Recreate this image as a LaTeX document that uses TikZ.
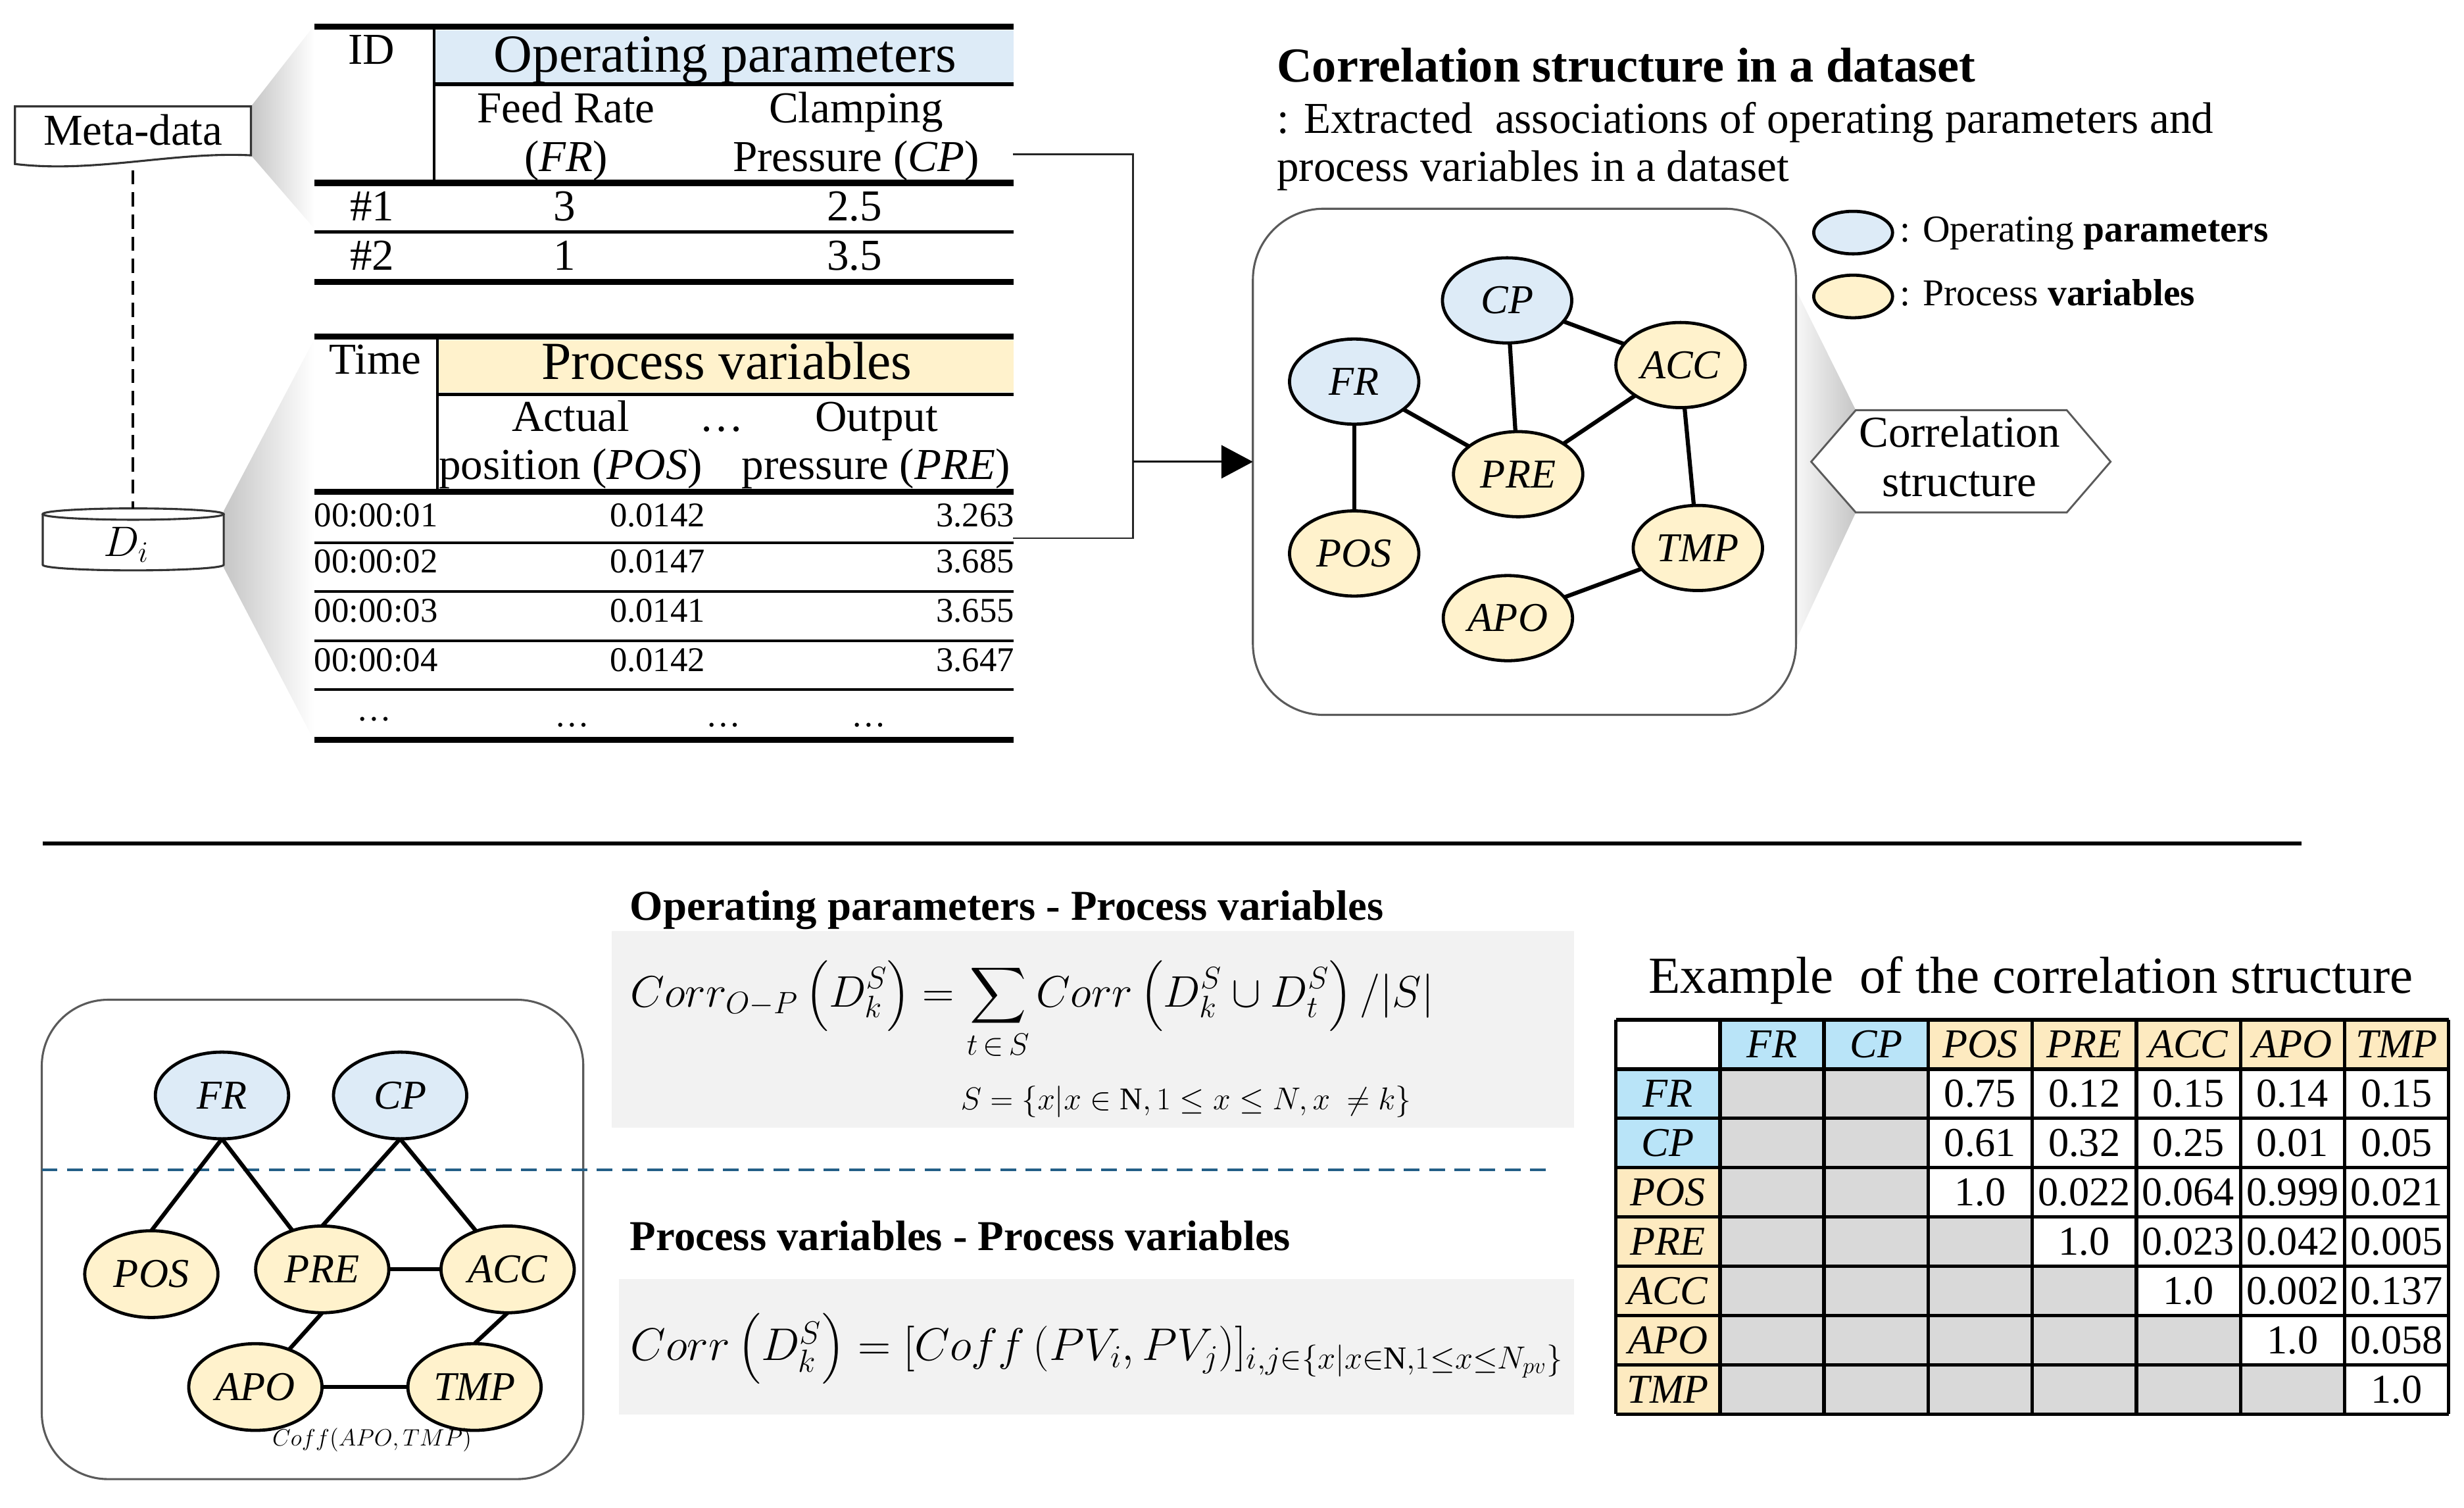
\RequirePackage{fix-cm}
\documentclass[tikz,border=0pt]{standalone}
\usepackage{exscale}
\usepackage{fontspec}
\setmainfont{Liberation Serif}
\usetikzlibrary{arrows.meta,shapes.geometric}
\definecolor{opblue}{RGB}{221,235,247}
\definecolor{pvyellow}{RGB}{255,242,204}
\definecolor{tblue}{RGB}{185,228,248}
\definecolor{tyellow}{RGB}{253,234,192}
\definecolor{cellgray}{RGB}{217,217,217}
\definecolor{boxgray}{RGB}{242,242,242}
\definecolor{dashblue}{RGB}{35,95,135}
\definecolor{framegray}{RGB}{90,90,90}
\begin{document}
\begin{tikzpicture}[x=1pt,y=-1pt,
  every node/.style={inner sep=0pt,outer sep=0pt},
  lbl/.style={anchor=base},
  fbody/.style={font=\fontsize{28}{32}\selectfont},
  fhead/.style={font=\fontsize{34}{38}\selectfont},
  fdata/.style={font=\fontsize{22}{26}\selectfont},
  fleg/.style={font=\fontsize{24}{28}\selectfont},
  ftitle/.style={font=\fontsize{31}{35}\selectfont\bfseries},
  fsub/.style={font=\fontsize{27}{31}\selectfont\bfseries},
  opn/.style={ellipse, draw=black, line width=2pt, fill=opblue, minimum width=82pt, minimum height=54pt, font=\fontsize{26}{30}\selectfont\itshape},
  pvn/.style={opn, fill=pvyellow},
  bign/.style={minimum width=84.5pt, minimum height=55pt},
  link/.style={line width=2.6pt},
  thickrule/.style={line width=3.8pt},
  midrule/.style={line width=2.2pt},
  thinrule/.style={line width=1.6pt},
  tline/.style={line width=2.2pt},
  tcell/.style={anchor=base, font=\fontsize{26}{30}\selectfont},
]
\useasboundingbox (0,0) rectangle (1563,956.3);

% ---------- zoom wedges ----------
\shade[left color=gray!45, right color=white] (159.2,67.5) -- (199.4,16) -- (199.4,145) -- (159.2,98.5) -- cycle;
\shade[left color=gray!45, right color=white] (141.9,324) -- (199.4,215) -- (199.4,470) -- (141.9,360) -- cycle;
\shade[left color=gray!6, right color=gray!45] (1139.3,184) -- (1177.2,260.1) -- (1177.2,325) -- (1139.3,406) -- cycle;

% ---------- Meta-data and D_i ----------
\draw[black!80, line width=1.3pt, fill=white] (9.5,67.5) -- (159.2,67.5) -- (159.2,98.5)
   .. controls (110,96) and (60,110) .. (9.5,104) -- cycle;
\node[lbl,fbody] (meta) at (84.4,91.8) {Meta-data};
\draw[black!80, line width=1.3pt, fill=white] (27.1,326) -- (27.1,358.2)
   arc[start angle=180, end angle=0, x radius=57.4, y radius=3.5] -- (141.9,326);
\draw[black!80, line width=1.3pt, fill=white] (84.5,326) ellipse[x radius=57.4, y radius=3.6];
\node[lbl, font=\fontsize{27}{30}\selectfont] (di) at (80,352.6) {$D_i$};
\coordinate (metabot) at (84.4,108);
\coordinate (cyltop) at (84.4,322.4);
\draw[line width=1.7pt, dash pattern=on 9pt off 5pt] (metabot) -- (cyltop);

% ---------- Operating parameters table ----------
\fill[opblue] (276.2,19.2) rectangle (643,52);
\draw[thickrule] (199.4,17) -- (643,17);
\draw[line width=1.6pt] (275.4,17) -- (275.4,116);
\draw[midrule] (275.4,53.4) -- (643,53.4);
\draw[thickrule] (199.4,116) -- (643,116);
\draw[midrule] (199.4,147) -- (643,147);
\draw[thickrule] (199.4,178.6) -- (643,178.6);
\node[lbl,fbody] (idh) at (235.5,40.7) {ID};
\node[lbl,fhead] (ophead) at (460,45.5) {Operating parameters};
\node[lbl,fbody] (fr1) at (359,77.8) {Feed Rate};
\node[lbl,fbody] (fr2) at (359,108.6) {(\textit{FR})};
\node[lbl,fbody] (cp1) at (543,77.8) {Clamping};
\node[lbl,fbody] (cp2) at (543,108.6) {Pressure (\textit{CP})};
\node[lbl,fbody] (r1id) at (236,140) {\#1};
\node[lbl,fbody] (r1fr) at (358,140) {3};
\node[lbl,fbody] (r1cp) at (542,140) {2.5};
\node[lbl,fbody] (r2id) at (236,171.2) {\#2};
\node[lbl,fbody] (r2fr) at (358,171.2) {1};
\node[lbl,fbody] (r2cp) at (542,171.2) {3.5};

% ---------- Process variables table ----------
\fill[pvyellow] (278.4,215.7) rectangle (643,248.8);
\draw[thickrule] (199.4,213.6) -- (643,213.6);
\draw[line width=1.8pt] (277.5,213.6) -- (277.5,312);
\draw[midrule] (277.5,250) -- (643,250);
\draw[thickrule] (199.4,312) -- (643,312);
\foreach \yy in {344.1,375.1,406.3,437.4} \draw[thinrule] (199.4,\yy) -- (643,\yy);
\draw[thickrule] (199.4,469.3) -- (643,469.3);
\node[lbl,fbody] (timeh) at (238,237.4) {Time};
\node[lbl,fhead] (pvhead) at (461,240.4) {Process variables};
\node[lbl,fbody] (pos1) at (362,273.5) {Actual};
\node[lbl,fbody] (pos2) at (362,303.8) {position (\textit{POS})};
\node[lbl,fbody] (hdots) at (457.8,273.5) {\ldots};
\node[lbl,fbody] (pre1) at (556,273.5) {Output};
\node[lbl,fbody] (pre2) at (555.6,303.8) {pressure (\textit{PRE})};
\foreach \yy/\tt/\va/\vb [count=\k] in {334/00:00:01/0.0142/3.263, 363.1/00:00:02/0.0147/3.685, 394.3/00:00:03/0.0141/3.655, 425.6/00:00:04/0.0142/3.647} {
  \node[anchor=base west,fdata] (tm-\k) at (199.4,\yy) {\tt};
  \node[anchor=base east,fdata] (va-\k) at (447.3,\yy) {\va};
  \node[anchor=base east,fdata] (vb-\k) at (643.4,\yy) {\vb};
}
\node[lbl,fdata] (ld1) at (237.5,457) {\ldots};
\node[lbl,fdata] (ld2) at (363,461) {\ldots};
\node[lbl,fdata] (ld3) at (459,461) {\ldots};
\node[lbl,fdata] (ld4) at (551,461) {\ldots};

% ---------- bracket connector + arrow ----------
\node[draw=framegray, line width=1.3pt, rounded corners=45pt, minimum width=344.5pt, minimum height=321pt] (gbox) at (967,292.85) {};
\coordinate (brTop) at (642.5,97.7);
\coordinate (brBot) at (642.5,341.3);
\coordinate (brMid) at (718.7,292.85);
\draw[line width=1.2pt, black!85] (brTop) -- (718.7,97.7) -- (718.7,341.3) -- (brBot);
\draw[line width=1.2pt, -{Triangle[length=20pt,width=21pt]}] (brMid) -- (gbox.west);

% ---------- right top: correlation structure ----------
\node[anchor=base west, ftitle] (rtitle) at (810,52) {Correlation structure in a dataset};
\node[anchor=base west, fbody] (rsub1) at (810,84.4) {: Extracted\ \ associations of operating parameters and};
\node[anchor=base west, fbody] (rsub2) at (810,114.8) {process variables in a dataset};
\node[opn, minimum width=50pt, minimum height=27pt] (legop) at (1175.5,147.5) {};
\node[pvn, minimum width=50pt, minimum height=27pt] (legpv) at (1175.5,188) {};
\node[anchor=base west, fleg] (legoptxt) at (1205,153.5) {: Operating \textbf{parameters}};
\node[anchor=base west, fleg] (legpvtxt) at (1205,193.8) {: Process \textbf{variables}};

\node[opn] (tFR) at (859,242) {FR};
\node[opn] (tCP) at (956,190.5) {CP};
\node[pvn] (tACC) at (1066,231.5) {ACC};
\node[pvn] (tPRE) at (963,300.7) {PRE};
\node[pvn] (tPOS) at (859,351) {POS};
\node[pvn] (tTMP) at (1077,347.5) {TMP};
\node[pvn] (tAPO) at (956.5,392) {APO};
\draw[link] (tFR) -- (tPOS);
\draw[link] (tFR) -- (tPRE);
\draw[link] (tCP) -- (tPRE);
\draw[link] (tCP) -- (tACC);
\draw[link] (tPRE) -- (tACC);
\draw[link] (tACC) -- (tTMP);
\draw[link] (tTMP) -- (tAPO);

\draw[framegray, line width=1.2pt, fill=white] (1148.9,292.8) -- (1177.2,260.1) -- (1311,260.1) -- (1338.8,292.8) -- (1311,325) -- (1177.2,325) -- cycle;
\node[lbl,fbody] (hex1) at (1243,283.7) {Correlation};
\node[lbl,fbody] (hex2) at (1243,315) {structure};

% ---------- separator ----------
\coordinate (sepL) at (27,535);
\coordinate (sepR) at (1460,535);
\draw[line width=2.5pt] (sepL) -- (sepR);

% ---------- bottom-left graph ----------
\node[draw=framegray, line width=1.3pt, rounded corners=42pt, minimum width=343.5pt, minimum height=304pt] (lbox) at (198.25,786) {};
\coordinate (dashL) at (26.5,742);
\coordinate (dashR) at (983,742);
\draw[dashblue, line width=1.6pt, dash pattern=on 10pt off 6pt] (dashL) -- (dashR);
\node[opn,bign] (bFR) at (140.8,694.7) {FR};
\node[opn,bign] (bCP) at (253.8,694.7) {CP};
\node[pvn,bign] (bPOS) at (96,808) {POS};
\node[pvn,bign] (bPRE) at (204.4,805) {PRE};
\node[pvn,bign] (bACC) at (322,805) {ACC};
\node[pvn,bign] (bAPO) at (162,879.6) {APO};
\node[pvn,bign] (bTMP) at (301,879.6) {TMP};
\draw[link] (bFR.south) -- (bPOS.north);
\draw[link] (bFR.south) -- (bPRE);
\draw[link] (bCP.south) -- (bPRE.north);
\draw[link] (bCP.south) -- (bACC);
\draw[link] (bPRE) -- (bACC);
\draw[link] (bPRE.south) -- (bAPO);
\draw[link] (bACC.south) -- (bTMP.north);
\draw[link] (bAPO) -- (bTMP);
\node[lbl, font=\fontsize{15}{18}\selectfont] (coff) at (236,917) {$Coff(APO,TMP)$};

% ---------- formulas ----------
\fill[boxgray] (388,590.4) rectangle (998.5,715);
\fill[boxgray] (392.6,811) rectangle (998.5,897);
\node[anchor=base west, fsub] (ophd) at (399.7,583.5) {Operating parameters - Process variables};
\node[anchor=base west, fsub] (pvhd) at (399.7,793) {Process variables - Process variables};
\node[anchor=base west, font=\fontsize{28}{32}\selectfont] (eqa) at (400,638.4)
  {$\displaystyle Corr_{O-P}\left(D_k^S\right) = \sum_{t\,\in\,S} Corr\left(D_k^S \cup D_t^S\right)/|S|$};
\node[anchor=base west, font=\fontsize{20}{24}\selectfont] (eqset) at (609.4,703.7)
  {$S = \{x|x \in \mathrm{N}, 1 \le x \le N, x\ \neq k\}$};
\node[anchor=base west, font=\fontsize{29}{33}\selectfont] (eqb) at (400,862.7)
  {$Corr\left(D_k^S\right) = [Coff\,(PV_i,PV_j)]_{i,j\in\{x|x\in\mathrm{N},1\le x\le N_{pv}\}}$};

% ---------- example table ----------
\node[anchor=base, font=\fontsize{33}{37}\selectfont] (extitle) at (1288.2,630) {Example\ \ of the correlation structure};
\fill[tblue] ({1025+66.03},646.7) rectangle ({1025+3*66.03},{646.7+31.26});
\fill[tyellow] ({1025+3*66.03},646.7) rectangle (1553.2,{646.7+31.26});
\fill[tblue] (1025,{646.7+31.26}) rectangle ({1025+66.03},{646.7+3*31.26});
\fill[tyellow] (1025,{646.7+3*31.26}) rectangle ({1025+66.03},896.8);
\fill[cellgray] ({1025+66.03},{646.7+31.26}) rectangle ({1025+3*66.03},896.8);
\foreach \r in {4,...,7} {
  \pgfmathtruncatemacro\cmax{\r-1}
  \foreach \c in {3,...,\cmax}
    \fill[cellgray] ({1025+\c*66.03},{646.7+\r*31.26}) rectangle ({1025+(\c+1)*66.03},{646.7+(\r+1)*31.26});
}
\foreach \i in {0,...,8} \draw[tline] ({1025+\i*66.03},646.7) -- ({1025+\i*66.03},896.8);
\foreach \j in {0,...,8} \draw[tline] (1025,{646.7+\j*31.26}) -- (1553.2,{646.7+\j*31.26});
\foreach \n [count=\i] in {FR,CP,POS,PRE,ACC,APO,TMP} {
  \node[tcell] (th-\i) at ({1025+(\i+0.5)*66.03},{646.7+0.5*31.26+8.5}) {\textit{\n}};
  \node[tcell] (tr-\i) at ({1025+0.5*66.03},{646.7+(\i+0.5)*31.26+8.5}) {\textit{\n}};
}
\foreach \r/\s/\vals in {1/3/{0.75,0.12,0.15,0.14,0.15}, 2/3/{0.61,0.32,0.25,0.01,0.05}, 3/3/{1.0,0.022,0.064,0.999,0.021}, 4/4/{1.0,0.023,0.042,0.005}, 5/5/{1.0,0.002,0.137}, 6/6/{1.0,0.058}, 7/7/{1.0}} {
  \foreach \v [count=\k] in \vals {
    \pgfmathtruncatemacro\cc{\s+\k-1}
    \node[tcell] (v-\r-\cc) at ({1025+(\cc+0.5)*66.03},{646.7+(\r+0.5)*31.26+8.5}) {\v};
  }
}
\end{tikzpicture}
\end{document}
